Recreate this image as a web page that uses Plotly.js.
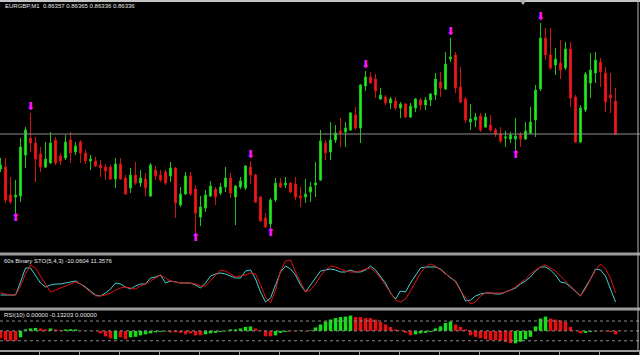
<!DOCTYPE html>
<html>
<head>
<meta charset="utf-8">
<script src="https://cdn.plot.ly/plotly-3.0.1.min.js"></script>
<style>
html,body{margin:0;padding:0;background:#000;}
#chart{width:640px;height:355px;}
</style>
</head>
<body>
<div id="chart"></div>
<script>
// ---- chart text ----
const priceHeader = 'EURGBP,M1\u00a0\u00a00.86357 0.86365 0.86336 0.86336';
const stochHeader = '60s Binary STO(5,4,3) -10.0604 11.3576';
const rsiHeader = 'RSI(10) 0.00000 -0.13203 0.00000';

// ---- candles (EURGBP M1) ----
const openPx = [
0.86301,0.86303,0.86275,0.86273,0.86274,0.86315,0.86332,0.86327,0.86316,0.86303,
0.86307,0.86330,0.86314,0.86312,0.86330,0.86318,0.86328,0.86317,0.86309,0.86309,
0.86305,0.86303,0.86303,0.86291,0.86306,0.86292,0.86282,0.86295,0.86287,0.86291,
0.86274,0.86300,0.86295,0.86298,0.86294,0.86302,0.86265,0.86276,0.86294,0.86281,
0.86253,0.86262,0.86274,0.86281,0.86277,0.86283,0.86292,0.86273,0.86283,0.86282,
0.86303,0.86295,0.86273,0.86252,0.86246,0.86270,0.86287,0.86285,0.86287,0.86286,
0.86274,0.86273,0.86278,0.86285,0.86290,0.86327,0.86318,0.86330,0.86339,0.86338,
0.86340,0.86355,0.86342,0.86384,0.86393,0.86391,0.86371,0.86373,0.86367,0.86369,
0.86362,0.86366,0.86353,0.86362,0.86370,0.86365,0.86370,0.86375,0.86388,0.86381,
0.86411,0.86415,0.86383,0.86371,0.86348,0.86350,0.86354,0.86343,0.86345,0.86340,
0.86336,0.86332,0.86331,0.86331,0.86335,0.86331,0.86337,0.86350,0.86381,0.86432,
0.86415,0.86405,0.86407,0.86402,0.86421,0.86373,0.86328,0.86360,0.86387,0.86397,
0.86408,0.86397,0.86375,0.86369];
const highPx = [
0.86312,0.86312,0.86293,0.86290,0.86332,0.86343,0.86357,0.86333,0.86323,0.86328,
0.86338,0.86333,0.86317,0.86335,0.86338,0.86328,0.86330,0.86320,0.86315,0.86313,
0.86310,0.86306,0.86305,0.86312,0.86312,0.86295,0.86302,0.86308,0.86300,0.86297,
0.86307,0.86304,0.86300,0.86300,0.86308,0.86303,0.86283,0.86298,0.86298,0.86285,
0.86274,0.86280,0.86289,0.86283,0.86287,0.86303,0.86297,0.86285,0.86293,0.86305,
0.86309,0.86296,0.86274,0.86257,0.86272,0.86292,0.86292,0.86293,0.86288,0.86293,
0.86283,0.86291,0.86288,0.86308,0.86340,0.86330,0.86348,0.86345,0.86352,0.86348,
0.86358,0.86363,0.86386,0.86399,0.86398,0.86396,0.86382,0.86375,0.86373,0.86373,
0.86368,0.86367,0.86367,0.86372,0.86372,0.86373,0.86377,0.86397,0.86398,0.86418,
0.86432,0.86418,0.86403,0.86373,0.86366,0.86357,0.86357,0.86357,0.86355,0.86342,
0.86343,0.86339,0.86338,0.86352,0.86338,0.86348,0.86363,0.86385,0.86447,0.86442,
0.86442,0.86422,0.86430,0.86428,0.86428,0.86375,0.86365,0.86398,0.86417,0.86418,
0.86412,0.86403,0.86397,0.86382];
const lowPx = [
0.86298,0.86267,0.86266,0.86257,0.86268,0.86302,0.86318,0.86288,0.86298,0.86302,
0.86306,0.86305,0.86305,0.86310,0.86307,0.86315,0.86307,0.86306,0.86300,0.86303,
0.86293,0.86290,0.86290,0.86282,0.86290,0.86275,0.86277,0.86285,0.86283,0.86274,
0.86273,0.86290,0.86288,0.86285,0.86288,0.86252,0.86263,0.86275,0.86274,0.86237,
0.86244,0.86258,0.86273,0.86265,0.86275,0.86278,0.86272,0.86245,0.86281,0.86280,
0.86286,0.86267,0.86248,0.86242,0.86242,0.86268,0.86282,0.86282,0.86277,0.86270,
0.86263,0.86267,0.86268,0.86273,0.86289,0.86310,0.86310,0.86327,0.86323,0.86323,
0.86339,0.86340,0.86327,0.86379,0.86386,0.86372,0.86370,0.86365,0.86361,0.86360,
0.86352,0.86352,0.86352,0.86358,0.86360,0.86360,0.86364,0.86370,0.86373,0.86380,
0.86408,0.86377,0.86367,0.86347,0.86340,0.86343,0.86338,0.86342,0.86338,0.86333,
0.86327,0.86323,0.86327,0.86320,0.86323,0.86330,0.86336,0.86333,0.86379,0.86410,
0.86400,0.86395,0.86391,0.86400,0.86363,0.86327,0.86327,0.86358,0.86372,0.86387,
0.86383,0.86358,0.86357,0.86335];
const closePx = [
0.86305,0.86270,0.86268,0.86275,0.86323,0.86340,0.86327,0.86311,0.86303,0.86311,
0.86327,0.86307,0.86309,0.86328,0.86317,0.86324,0.86317,0.86309,0.86311,0.86304,
0.86302,0.86299,0.86291,0.86306,0.86291,0.86276,0.86295,0.86287,0.86292,0.86282,
0.86305,0.86294,0.86290,0.86287,0.86302,0.86267,0.86276,0.86294,0.86276,0.86257,
0.86263,0.86275,0.86284,0.86273,0.86283,0.86292,0.86277,0.86284,0.86289,0.86304,
0.86295,0.86268,0.86249,0.86243,0.86270,0.86287,0.86283,0.86287,0.86278,0.86273,
0.86272,0.86276,0.86283,0.86287,0.86329,0.86317,0.86330,0.86337,0.86337,0.86342,
0.86357,0.86342,0.86385,0.86393,0.86387,0.86379,0.86375,0.86367,0.86371,0.86362,
0.86366,0.86353,0.86364,0.86371,0.86365,0.86370,0.86376,0.86391,0.86382,0.86406,
0.86413,0.86382,0.86368,0.86350,0.86351,0.86353,0.86340,0.86353,0.86340,0.86336,
0.86329,0.86333,0.86335,0.86334,0.86331,0.86339,0.86348,0.86380,0.86432,0.86415,
0.86402,0.86411,0.86400,0.86421,0.86372,0.86328,0.86362,0.86396,0.86400,0.86410,
0.86398,0.86368,0.86372,0.86336];

// ---- signal arrows (candle indices) ----
const sellSignals = [6, 50, 73, 90, 108];
const buySignals = [3, 39, 54, 103];

// ---- 60s Binary STO(5,4,3) ----
const stoMain = [
22,22,22,22,48,76,76,60,46,38,
42,44,44,46,48,50,44,38,30,22,
20,26,34,46,44,38,34,40,44,44,
56,58,62,46,50,48,46,46,46,42,
36,46,60,64,66,64,60,56,56,70,
72,54,28,8,16,42,68,80,74,62,
42,28,42,54,70,72,74,72,68,68,
72,68,68,72,80,72,60,46,26,14,
30,28,46,62,76,78,78,78,74,64,
56,50,32,10,12,20,24,26,26,24,
24,28,32,36,44,50,58,70,78,78,
72,62,48,46,38,28,20,38,54,74,
72,60,32,8];
const stoSignal = [
26,24,22,22,40,64,82,76,60,42,
28,32,36,40,44,48,44,36,28,20,
20,22,26,32,36,38,36,34,40,44,
50,56,62,56,50,48,46,46,46,44,
40,40,50,62,72,70,64,58,60,62,
66,64,42,18,6,32,70,90,92,68,
48,28,32,44,60,72,80,78,74,70,
68,68,70,74,76,68,56,42,26,12,
8,14,30,48,66,78,84,80,72,64,
58,48,30,16,4,8,20,26,26,26,
26,28,32,38,46,54,64,72,78,82,
76,70,60,50,42,32,20,34,52,72,
84,74,56,26];

// ---- RSI(10) histogram ----
const rsiHist = [
-15,-19,-20,-20,-13,3,5,6,5,3,
5,3,2,3,3.5,3,1,0.5,0.5,-0.5,
-5,-11,-15,-17,-13,-17,-13,-12,-9,-7,
-5,-3,-2,-1,-3,-3,-4,-7,-5,-9,
-9,-7,-5,-4,-2,-1,3,3,5,8,
9,5,1,-11,-11,-9,-4,-2,-1,-1,
1,-1,1,7,13,19,23,26,28,29,
31,28,28,26,26,23,18,13,8,3,
1,-4,-9,-7,-5,-4,-2,5,9,16,
19,13,8,3,-9,-12,-15,-17,-19,-19,
-20,-22,-25,-25,-22,-17,-12,9,25,29,
25,23,21,18,8,1,-5,-4,-2,-1,
-1,-1,-2,-7];
const rsiRising = [
0,0,0,0,1,1,1,1,0,0,
1,0,0,1,1,1,0,0,1,0,
0,0,0,1,0,0,1,1,1,1,
1,1,1,1,0,0,0,0,0,0,
0,1,1,1,1,1,1,1,1,1,
1,0,0,0,0,1,1,1,0,0,
1,0,1,1,1,1,1,1,1,1,
1,0,0,0,0,0,0,0,0,0,
0,0,0,1,1,1,1,1,1,1,
1,0,0,0,0,0,0,0,0,0,
0,0,0,1,1,1,1,1,1,1,
0,0,0,0,0,0,0,1,1,1,
0,0,0,0];
const rsiLevels = [20, 0, -20];

// ---- build ----
const idx = openPx.map((_, i) => i);
const GREEN = '#22ee22', RED = '#ee1a1a';
const P = (px) => px / 640, Q = (py) => 1 - py / 355;

const arrowFont = {color: '#ff14ff', size: 11, family: 'DejaVu Sans'};
const traces = [
  {
    type: 'candlestick', x: idx, open: openPx, high: highPx, low: lowPx, close: closePx,
    xaxis: 'x', yaxis: 'y', whiskerwidth: 0, hoverinfo: 'skip',
    increasing: {line: {color: '#1cc41c', width: 1}, fillcolor: GREEN},
    decreasing: {line: {color: '#d41414', width: 1}, fillcolor: RED}
  },
  {
    type: 'scatter', mode: 'text', x: sellSignals, y: sellSignals.map(i => highPx[i]),
    text: sellSignals.map(() => '\u2B07'), textposition: 'top center', cliponaxis: false,
    textfont: arrowFont, xaxis: 'x', yaxis: 'y', hoverinfo: 'skip'
  },
  {
    type: 'scatter', mode: 'text', x: buySignals, y: buySignals.map(i => lowPx[i]),
    text: buySignals.map(() => '\u2B06'), textposition: 'bottom center', cliponaxis: false,
    textfont: arrowFont, xaxis: 'x', yaxis: 'y', hoverinfo: 'skip'
  },
  {
    type: 'scatter', mode: 'lines', x: idx, y: stoMain, xaxis: 'x', yaxis: 'y2',
    line: {color: '#44d0d0', width: 1}, hoverinfo: 'skip'
  },
  {
    type: 'scatter', mode: 'lines', x: idx, y: stoSignal, xaxis: 'x', yaxis: 'y2',
    line: {color: '#e01414', width: 1}, hoverinfo: 'skip'
  },
  {
    type: 'bar', x: idx, y: rsiHist, xaxis: 'x', yaxis: 'y3',
    marker: {color: rsiRising.map(r => r ? '#18e018' : '#e81010'), line: {width: 0}},
    hoverinfo: 'skip'
  }
];

const hideY = {showgrid: false, zeroline: false, showticklabels: false, ticks: '', showline: false, fixedrange: true};
const SEP = '#9c9c9c';
const shapes = [
  {type: 'line', xref: 'paper', yref: 'y', x0: 0, x1: 1, y0: closePx[closePx.length - 1], y1: closePx[closePx.length - 1],
   line: {color: '#8e8e8e', width: 1}},
  ...rsiLevels.map(l => ({type: 'line', xref: 'paper', yref: 'y3', x0: 0, x1: 1, y0: l, y1: l,
   line: {color: '#8a8a8a', width: 1, dash: 'dot'}})),
  {type: 'rect', xref: 'paper', yref: 'paper', x0: 0, x1: 1, y0: Q(2), y1: 1, fillcolor: '#c4c4c4', line: {width: 0}},
  {type: 'rect', xref: 'paper', yref: 'paper', x0: 0, x1: 1, y0: Q(255.5), y1: Q(252.5), fillcolor: SEP, line: {width: 0}},
  {type: 'rect', xref: 'paper', yref: 'paper', x0: 0, x1: 1, y0: Q(310.5), y1: Q(307.5), fillcolor: SEP, line: {width: 0}},
  {type: 'rect', xref: 'paper', yref: 'paper', x0: 0, x1: 1, y0: Q(352), y1: Q(350), fillcolor: SEP, line: {width: 0}},
  {type: 'line', xref: 'paper', yref: 'paper', x0: P(638), x1: P(638), y0: Q(350), y1: 1, line: {color: '#b8b8b8', width: 1}},
  {type: 'path', xref: 'paper', yref: 'paper',
   path: `M ${P(519.5)} ${Q(0)} L ${P(526.5)} ${Q(0)} L ${P(523)} ${Q(5)} Z`, fillcolor: '#b0b0b0', line: {width: 0}}
];

const hdrFont = {family: 'Liberation Sans', size: 6, color: '#e6e6e6'};
const annotations = [
  {text: priceHeader, xref: 'paper', yref: 'paper', x: P(3), y: Q(6), xanchor: 'left', yanchor: 'middle', showarrow: false, font: hdrFont},
  {text: stochHeader, xref: 'paper', yref: 'paper', x: P(2), y: Q(261), xanchor: 'left', yanchor: 'middle', showarrow: false, font: hdrFont},
  {text: rsiHeader, xref: 'paper', yref: 'paper', x: P(2), y: Q(315), xanchor: 'left', yanchor: 'middle', showarrow: false, font: hdrFont}
];

const layout = {
  width: 640, height: 355, margin: {l: 0, r: 0, t: 0, b: 0, pad: 0},
  paper_bgcolor: '#000', plot_bgcolor: '#000', showlegend: false,
  boxgap: 0.4, bargap: 0.3, hovermode: false,
  xaxis: {domain: [0, 1], range: [-0.1, 127.9], rangeslider: {visible: false}, anchor: 'y3',
          showgrid: false, zeroline: false, showticklabels: false, showline: false,
          ticks: 'outside', ticklen: 4, tickwidth: 1, tickcolor: '#a0a0a0', tickmode: 'linear', tick0: -0.2, dtick: 8, fixedrange: true},
  yaxis: Object.assign({domain: [Q(252), Q(3)], range: [0.86218, 0.86467]}, hideY),
  yaxis2: Object.assign({domain: [Q(307), Q(256)], range: [-2, 100]}, hideY),
  yaxis3: Object.assign({domain: [Q(350), Q(311)], range: [-38.7, 40.3]}, hideY),
  shapes: shapes, annotations: annotations
};

Plotly.newPlot('chart', traces, layout, {staticPlot: true, displayModeBar: false});
</script>
</body>
</html>
